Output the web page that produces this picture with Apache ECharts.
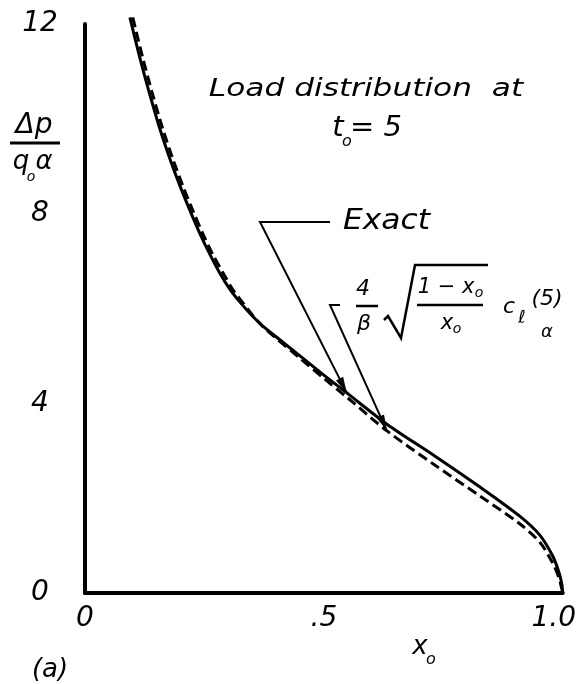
<!DOCTYPE html>
<html>
<head>
<meta charset="utf-8">
<script src="https://cdn.jsdelivr.net/npm/echarts@6/dist/echarts.min.js"></script>
<style>
  html, body { margin: 0; padding: 0; background: #fff; }
  #chart { width: 579px; height: 684px; }
</style>
</head>
<body>
<div id="chart"></div>
<script>
// Exact load distribution at t0 = 5
const exactX = [0.094, 0.115, 0.136, 0.157, 0.178, 0.199, 0.220, 0.241, 0.262, 0.282, 0.303, 0.324,
                0.345, 0.370, 0.398, 0.450, 0.502, 0.548, 0.632, 0.732, 0.826, 0.910, 0.952, 0.979,
                0.992, 0.998, 1.0];
const exactY = [12.14, 11.28, 10.50, 9.78, 9.15, 8.58, 8.06, 7.57, 7.13, 6.75, 6.41, 6.14,
                5.90, 5.65, 5.42, 5.00, 4.58, 4.22, 3.56, 2.89, 2.24, 1.62, 1.22, 0.78,
                0.44, 0.19, 0];

// Approximation (4/β)·sqrt((1 - x0)/x0)·c_lα(5)
const approxX = [0.100, 0.121, 0.142, 0.163, 0.184, 0.205, 0.226, 0.247, 0.268, 0.289, 0.310, 0.329,
                 0.349, 0.372, 0.398, 0.450, 0.502, 0.548, 0.632, 0.732, 0.826, 0.910, 0.952, 0.979,
                 0.992, 1.0];
const approxY = [12.14, 11.28, 10.50, 9.78, 9.15, 8.58, 8.06, 7.57, 7.13, 6.75, 6.39, 6.14,
                 5.88, 5.62, 5.39, 4.95, 4.51, 4.13, 3.42, 2.70, 2.05, 1.46, 1.07, 0.63,
                 0.32, 0];

const xTickValues = [0, 0.5, 1.0];
const xTickLabels = ['0', '.5', '1.0'];
const yTickValues = [0, 4, 8, 12];
const yTickLabels = ['0', '4', '8', '12'];

// Indices of the points the two leader arrows point at
const exactArrowIndex = 17;
const approxArrowIndex = 18;

const FONT = '"DejaVu Sans", "Liberation Sans", sans-serif';
const INK = '#000';

const pairs = (xs, ys) => xs.map((x, i) => [x, ys[i]]);

const chart = echarts.init(document.getElementById('chart'), null, { renderer: 'canvas' });

chart.setOption({
  animation: false,
  backgroundColor: '#fff',
  grid: { left: 85, right: 16, top: 24, bottom: 91, containLabel: false },
  xAxis: {
    type: 'value', min: 0, max: 1, interval: 0.5,
    axisLine: { show: true, onZero: false, lineStyle: { color: INK, width: 4 } },
    axisTick: { show: false },
    splitLine: { show: false },
    axisLabel: {
      margin: 12,
      color: INK, fontFamily: FONT, fontStyle: 'italic', fontSize: 28,
      formatter: v => {
        const i = xTickValues.findIndex(t => Math.abs(t - v) < 1e-9);
        if (i < 0) return '';
        return i === xTickValues.length - 1 ? '{r|' + xTickLabels[i] + '}' : xTickLabels[i];
      },
      rich: {
        r: { color: INK, fontFamily: FONT, fontStyle: 'italic', fontSize: 28, padding: [0, 18, 0, 0] }
      }
    }
  },
  yAxis: {
    type: 'value', min: 0, max: 12, interval: 4,
    axisLine: { show: true, onZero: false, lineStyle: { color: INK, width: 4 } },
    axisTick: { show: false },
    splitLine: { show: false },
    axisLabel: {
      margin: 45, align: 'center',
      color: INK, fontFamily: FONT, fontStyle: 'italic', fontSize: 28,
      formatter: v => {
        const i = yTickValues.indexOf(v);
        return i < 0 ? '' : yTickLabels[i];
      }
    }
  },
  series: [
    {
      name: 'Exact', type: 'line', data: pairs(exactX, exactY),
      showSymbol: false, smooth: 0.3, clip: false,
      lineStyle: { color: INK, width: 3 }
    },
    {
      name: 'Approximation', type: 'line', data: pairs(approxX, approxY),
      showSymbol: false, smooth: 0.3, clip: false,
      lineStyle: { color: INK, width: 3, type: [10, 5] }
    }
  ]
});

function text(x, y, s, size, opts) {
  return Object.assign({
    type: 'text', x: x, y: y, silent: true,
    style: Object.assign({
      text: s, fill: INK, fontFamily: FONT, fontStyle: 'italic', fontSize: size,
      align: 'center', verticalAlign: 'middle'
    }, (opts && opts.style) || {})
  }, (opts && opts.el) || {});
}

function line(points, width) {
  return { type: 'polyline', silent: true, shape: { points: points },
           style: { stroke: INK, lineWidth: width || 2, fill: null } };
}

function arrowHead(from, tip, len, half) {
  const dx = tip[0] - from[0], dy = tip[1] - from[1];
  const d = Math.hypot(dx, dy);
  const ux = dx / d, uy = dy / d;
  const bx = tip[0] - ux * len, by = tip[1] - uy * len;
  return { type: 'polygon', silent: true,
           shape: { points: [tip, [bx - uy * half, by + ux * half], [bx + uy * half, by - ux * half]] },
           style: { fill: INK } };
}

const tipExact = chart.convertToPixel({ gridIndex: 0 }, [exactX[exactArrowIndex], exactY[exactArrowIndex]]);
const tipApprox = chart.convertToPixel({ gridIndex: 0 }, [approxX[approxArrowIndex], approxY[approxArrowIndex]]);

const exactElbow = [260, 222];
const approxElbow = [330, 305];

chart.setOption({
  graphic: [
    // heading
    text(366, 90, 'Load distribution  at', 24, { el: { scaleX: 1.3 } }),
    text(338, 128, 't', 29),
    text(347, 142, 'o', 16),
    text(350, 128, '= 5', 29, { style: { align: 'left' } }),

    // y-axis name: Δp over q0α
    text(34, 126, 'Δp', 28),
    { type: 'line', silent: true, shape: { x1: 10, y1: 143, x2: 60, y2: 143 }, style: { stroke: INK, lineWidth: 3 } },
    text(21, 162, 'q', 26),
    text(31, 177, 'o', 14),
    text(44, 162, 'α', 26),

    // x-axis name
    text(420, 647, 'x', 26),
    text(431, 660, 'o', 16),

    // panel letter
    text(50, 670, '(a)', 26),

    // "Exact" leader
    text(343, 222, 'Exact', 28, { style: { align: 'left' }, el: { scaleX: 1.12 } }),
    line([[330, 222], exactElbow, tipExact], 2),
    arrowHead(exactElbow, tipExact, 16, 4),

    // approximation leader and formula
    line([[340, approxElbow[1]], approxElbow, tipApprox], 2),
    arrowHead(approxElbow, tipApprox, 16, 4),
    text(363, 289, '4', 22),
    { type: 'line', silent: true, shape: { x1: 356, y1: 306, x2: 378, y2: 306 }, style: { stroke: INK, lineWidth: 2.5 } },
    text(364, 324, 'β', 22),
    line([[384, 320], [388, 316], [401, 338], [415, 265], [488, 265]], 2.5),
    text(446, 288, '1 − x', 21),
    text(479, 293, 'o', 14),
    { type: 'line', silent: true, shape: { x1: 417, y1: 305, x2: 483, y2: 305 }, style: { stroke: INK, lineWidth: 2.5 } },
    text(447, 324, 'x', 21),
    text(457, 329, 'o', 14),
    text(509, 307, 'c', 22),
    text(522, 318, 'ℓ', 18),
    text(547, 332, 'α', 18),
    text(547, 299, '(5)', 22)
  ]
});
</script>
</body>
</html>
